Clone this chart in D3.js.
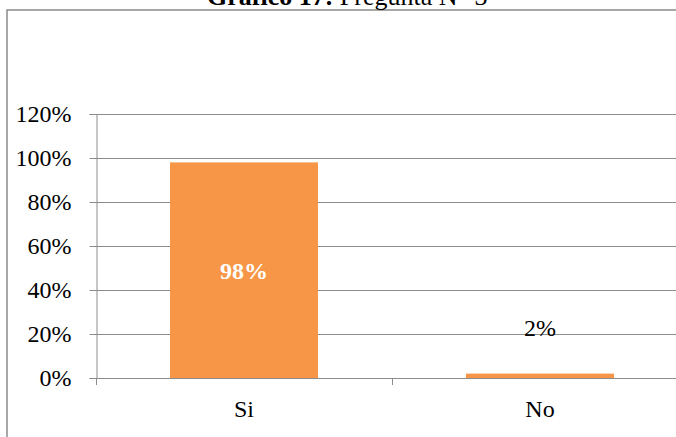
<!DOCTYPE html>
<html>
<head>
<meta charset="utf-8">
<script src="https://cdn.jsdelivr.net/npm/d3@7"></script>
<style>
  html, body { margin: 0; padding: 0; background: #fff; overflow: hidden; }
  svg { display: block; }
  text { font-family: "Liberation Serif", "Times New Roman", serif; }
</style>
</head>
<body>
<svg id="chart" width="676" height="437"></svg>
<script>
const categories = ["Si", "No"];
const values = [98, 2];
const valueLabels = ["98%", "2%"];
const yTicks = [0, 20, 40, 60, 80, 100, 120];
const titleBold = "Gráfico 17:";
const titleRest = " Pregunta N° 3";

const svg = d3.select("#chart");
const W = 676, H = 437;
const plot = { left: 96, right: 688, top: 114, bottom: 378 };

svg.append("rect").attr("width", W).attr("height", H).attr("fill", "#fff");

// outer chart border (extends beyond the visible window on right/bottom)
svg.append("rect")
  .attr("x", 7).attr("y", 10)
  .attr("width", 700).attr("height", 460)
  .attr("fill", "none").attr("stroke", "#8a8a8a").attr("stroke-width", 1.5);

// title
const title = svg.append("text")
  .attr("x", 207).attr("y", 5)
  .attr("font-size", 26).attr("fill", "#000");
title.append("tspan").attr("font-weight", "bold").text(titleBold);
title.append("tspan").text(titleRest);

const x = d3.scaleBand().domain(categories)
  .range([plot.left, plot.right]).paddingInner(0.5).paddingOuter(0.25);
const y = d3.scaleLinear().domain([0, 120]).range([plot.bottom, plot.top]);

// gridlines
svg.append("g").selectAll("line").data(yTicks.filter(d => d > 0)).join("line")
  .attr("x1", plot.left).attr("x2", plot.right)
  .attr("y1", d => y(d) + 0.5).attr("y2", d => y(d) + 0.5)
  .attr("stroke", "#8c8c8c").attr("stroke-width", 1);

// y axis
const yAxis = svg.append("g").attr("transform", `translate(${plot.left + 0.5},0)`)
  .call(d3.axisLeft(y).tickValues(yTicks).tickFormat(d => d + "%").tickSize(7).tickPadding(18));
yAxis.select(".domain").attr("stroke", "#8c8c8c");
yAxis.selectAll(".tick line").attr("stroke", "#8c8c8c");
yAxis.selectAll(".tick text")
  .attr("font-family", "Liberation Serif, serif").attr("font-size", 24).attr("fill", "#000");

// bars
svg.append("g").selectAll("rect").data(values).join("rect")
  .attr("x", (d, i) => x(categories[i]))
  .attr("width", x.bandwidth())
  .attr("y", d => y(d))
  .attr("height", d => y(0) - y(d))
  .attr("fill", "#F79646");

// x axis
const xTickPos = [plot.left, ...categories.slice(1).map(c => x(c) - x.step() * x.paddingInner() / 2), plot.right];
svg.append("line")
  .attr("x1", plot.left).attr("x2", plot.right)
  .attr("y1", y(0) + 0.5).attr("y2", y(0) + 0.5)
  .attr("stroke", "#8c8c8c");
svg.append("g").selectAll("line").data(xTickPos).join("line")
  .attr("x1", d => Math.round(d) + 0.5).attr("x2", d => Math.round(d) + 0.5)
  .attr("y1", y(0)).attr("y2", y(0) + 7)
  .attr("stroke", "#8c8c8c");
svg.append("g").selectAll("text").data(categories).join("text")
  .attr("x", d => x(d) + x.bandwidth() / 2)
  .attr("y", 417)
  .attr("text-anchor", "middle").attr("font-size", 24).attr("fill", "#000")
  .text(d => d);

// data labels
svg.append("g").selectAll("text").data(values).join("text")
  .attr("x", (d, i) => x(categories[i]) + x.bandwidth() / 2)
  .attr("y", (d, i) => i === 0 ? (y(d) + y(0)) / 2 + 9 : y(d) - 38)
  .attr("text-anchor", "middle")
  .attr("font-size", 24)
  .attr("font-weight", (d, i) => i === 0 ? "bold" : "normal")
  .attr("fill", (d, i) => i === 0 ? "#fff" : "#000")
  .text((d, i) => valueLabels[i]);
</script>
</body>
</html>
